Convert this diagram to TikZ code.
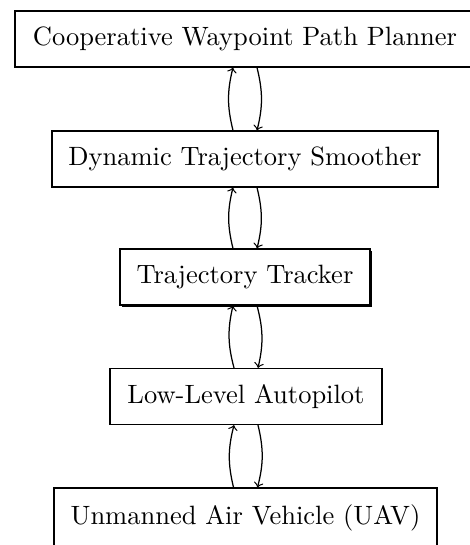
\documentclass[tikz,border=0pt]{standalone}
\usetikzlibrary{shadows}
\begin{document}
\begin{tikzpicture}[x=0.4pt,y=0.4pt,
  blk/.style={draw, line width=0.5pt, minimum height=22.4pt, inner sep=0pt, font=\fontsize{10.6}{12.7}\selectfont},
  link/.style={->, line width=0.5pt, bend left=14}]
\useasboundingbox (0,0) rectangle (469,-545);
\node[blk, minimum width=184pt] (cwpp) at (245,-39) {Cooperative Waypoint Path Planner};
\node[blk, minimum width=154.4pt] (dts) at (245,-159) {Dynamic Trajectory Smoother};
\node[blk, minimum width=100pt, fill=white, drop shadow={shadow xshift=0.7pt, shadow yshift=-0.7pt, fill=black, opacity=1}] (tt) at (245,-277) {Trajectory Tracker};
\node[blk, minimum width=108.8pt] (lla) at (246,-396.5) {Low-Level Autopilot};
\node[blk, minimum width=153.2pt, minimum height=24pt] (uav) at (245.5,-518) {Unmanned Air Vehicle (UAV)};
\foreach \lo/\up in {dts/cwpp, tt/dts, lla/tt, uav/lla}{
  \draw[link] ([xshift=-4.8pt]\lo.north) to ([xshift=-4.8pt]\up.south);
  \draw[link] ([xshift=4.8pt]\up.south) to ([xshift=4.8pt]\lo.north);
}
\end{tikzpicture}
\end{document}
